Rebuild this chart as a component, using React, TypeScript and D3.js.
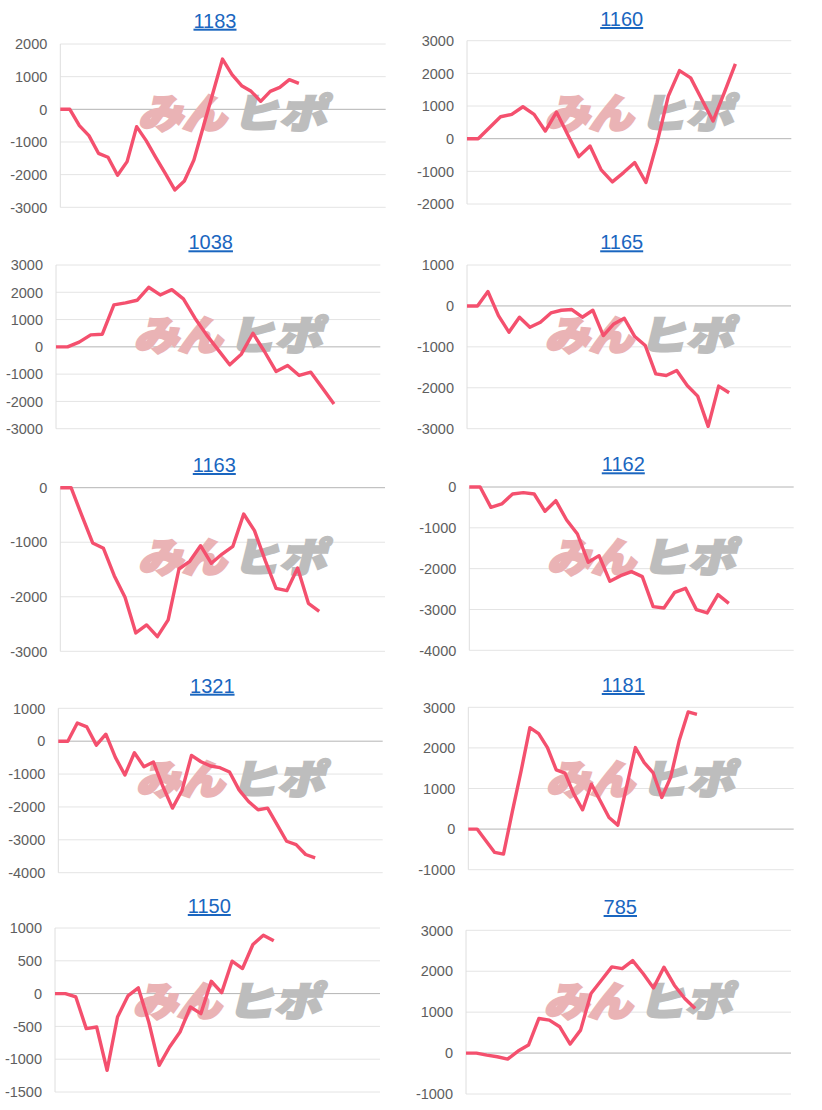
import React from "react";
import * as d3 from "d3";

// ---- data ----
const titles = ["1183", "1160", "1038", "1165", "1163", "1162", "1321", "1181", "1150", "785"];

const s1183 = [0, 0, -500, -806, -1347, -1469, -2020, -1602, -531, -959, -1469, -1959, -2469, -2194, -1551, -520, 510, 1540, 1061, 724, 551, 245, 551, 673, 908, 796];
const s1160 = [0, 0, 336, 671, 743, 977, 743, 234, 814, 130, -549, -224, -956, -1322, -1038, -732, -1343, -122, 1302, 2085, 1862, 1200, 539, 1404, 2289];
const s1038 = [0, 0, 171, 439, 463, 1537, 1610, 1707, 2183, 1902, 2098, 1756, 1049, 439, -110, -659, -268, 500, -171, -902, -683, -1049, -927, -1512, -2098];
const s1165 = [0, 0, 350, -236, -642, -276, -520, -398, -171, -106, -89, -276, -106, -724, -439, -301, -748, -967, -1659, -1699, -1577, -1943, -2203, -2943, -1959, -2122];
const s1163 = [0, 0, -513, -1014, -1112, -1613, -2010, -2663, -2517, -2731, -2425, -1491, -1350, -1063, -1387, -1216, -1075, -483, -788, -1338, -1845, -1888, -1472, -2120, -2266];
const s1162 = [0, 0, -498, -416, -171, -139, -171, -596, -335, -808, -1151, -1845, -1682, -2310, -2171, -2073, -2196, -2931, -2963, -2580, -2482, -3004, -3086, -2637, -2849];
const s1321 = [0, 0, 554, 433, -121, 212, -494, -1028, -353, -776, -635, -1380, -2035, -1501, -433, -625, -756, -806, -937, -1481, -1834, -2086, -2035, -2539, -3043, -3144, -3446, -3547];
const s1181 = [0, 0, -287, -574, -615, 426, 1426, 2500, 2352, 2008, 1459, 1377, 861, 475, 1107, 697, 287, 98, 1049, 2008, 1639, 1393, 779, 1270, 2197, 2885, 2828];
const s1150 = [0, 0, -51, -534, -509, -1170, -356, -36, 87, -433, -1094, -814, -585, -204, -305, 188, 15, 494, 382, 748, 891, 804];
const s785 = [0, 0, -49, -89, -146, 49, 195, 846, 805, 642, 220, 561, 1455, 1780, 2106, 2065, 2260, 1943, 1593, 2098, 1659, 1333, 1089];

const seriesList = [s1183, s1160, s1038, s1165, s1163, s1162, s1321, s1181, s1150, s785];

// y axis ranges and tick steps
const yMins = [-3000, -2000, -3000, -3000, -3000, -4000, -4000, -1000, -1500, -1000];
const yMaxs = [2000, 3000, 3000, 1000, 0, 0, 1000, 3000, 1000, 3000];
const ySteps = [1000, 1000, 1000, 1000, 1000, 1000, 1000, 1000, 500, 1000];
// x axis span (index domain max)
const xSpans = [34.1, 29.0, 28.0, 30.9, 30.1, 30.0, 34.1, 37.0, 31.2, 31.2];

// ---- layout (pixel positions, not data) ----
const layout = [
  { l: 60.3, r: 385.7, t: 44, b: 207.3, tx: 215, ty: 27.7, row: 0 },
  { l: 467, r: 791.3, t: 40.7, b: 204, tx: 621.7, ty: 26, row: 0 },
  { l: 56, r: 380.3, t: 265, b: 428.7, tx: 210.7, ty: 249.3, row: 1 },
  { l: 467, r: 791, t: 265, b: 428.7, tx: 621.7, ty: 249.3, row: 1 },
  { l: 60.3, r: 385, t: 487.7, b: 651.3, tx: 214.3, ty: 472, row: 2 },
  { l: 469.3, r: 793.7, t: 487, b: 650.3, tx: 623.3, ty: 471.3, row: 2 },
  { l: 58.3, r: 382.7, t: 708.3, b: 872.7, tx: 212.3, ty: 692.7, row: 3 },
  { l: 468.3, r: 793.7, t: 707.3, b: 869.7, tx: 623.3, ty: 692, row: 3 },
  { l: 55, r: 380, t: 928, b: 1092, tx: 209.3, ty: 913, row: 4 },
  { l: 466, r: 791, t: 930.3, b: 1094, tx: 620.3, ty: 914, row: 4 },
];

const FONT = "'Liberation Sans', Arial, Helvetica, sans-serif";
const LINE_COLOR = "#f4506e";

function Panel({ i }: { i: number }) {
  const L = layout[i];
  const data = seriesList[i];
  const x = d3.scaleLinear().domain([0, xSpans[i]]).range([L.l, L.r]);
  const y = d3.scaleLinear().domain([yMins[i], yMaxs[i]]).range([L.b, L.t]);
  const ticks = d3.range(yMins[i], yMaxs[i] + ySteps[i] / 2, ySteps[i]);
  const line = d3
    .line<number>()
    .x((_, k) => x(k))
    .y((v) => y(v));
  const wmX = L.l + 76;
  const wmY = L.row * 222 + 96;
  return (
    <g>
      <text
        x={L.tx}
        y={L.ty}
        textAnchor="middle"
        fontFamily={FONT}
        fontSize={20}
        fill="#1a66c0"
        textDecoration="underline"
      >
        {titles[i]}
      </text>
      {ticks.map((t) => (
        <g key={t}>
          <line
            x1={L.l}
            x2={L.r}
            y1={y(t)}
            y2={y(t)}
            stroke={t === 0 ? "#b4b4b4" : "#e4e4e4"}
            strokeWidth={1}
          />
          <text
            x={L.l - 13}
            y={y(t)}
            dy="0.36em"
            textAnchor="end"
            fontFamily={FONT}
            fontSize={14.5}
            fill="#5e5e5e"
          >
            {t}
          </text>
        </g>
      ))}
      <line x1={L.l} x2={L.l} y1={L.t} y2={L.b} stroke="#dedede" strokeWidth={1} />
      <g transform={`translate(${wmX},${wmY})`}>
        <g transform="skewX(-14)">
          <text
            x={10}
            y={32}
            fontFamily="'Noto Sans CJK JP', sans-serif"
            fontWeight={900}
            fontSize={40}
            fill="#eab3b5"
            stroke="#eab3b5"
            strokeWidth={3}
            strokeLinejoin="miter"
            textLength={88}
            lengthAdjust="spacingAndGlyphs"
          >
            みん
          </text>
          <text
            x={104}
            y={32}
            fontFamily="'Noto Sans CJK JP', sans-serif"
            fontWeight={900}
            fontSize={40}
            fill="#bdbdbd"
            stroke="#bdbdbd"
            strokeWidth={2.5}
            strokeLinejoin="miter"
            textLength={94}
            lengthAdjust="spacingAndGlyphs"
          >
            ヒポ
          </text>
        </g>
      </g>
      <path d={line(data) || ""} fill="none" stroke={LINE_COLOR} strokeWidth={3.4} strokeLinejoin="round" strokeLinecap="butt" />
    </g>
  );
}

export default function App() {
  return (
    <svg
      width={822}
      height={1110}
      style={{ position: "absolute", left: 0, top: 0, background: "#fff", display: "block" }}
    >
      <rect width={822} height={1110} fill="#fff" />
      {titles.map((_, i) => (
        <Panel key={i} i={i} />
      ))}
    </svg>
  );
}
